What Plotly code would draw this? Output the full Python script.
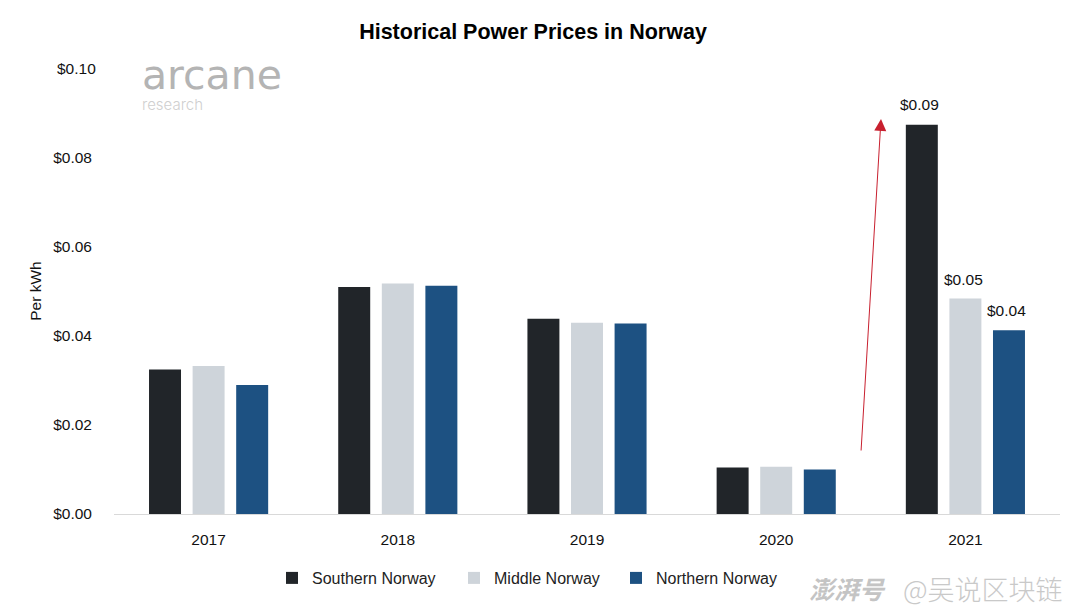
import plotly.graph_objects as go

years = ['2017', '2018', '2019', '2020', '2021']
southern = [0.0324, 0.0509, 0.0438, 0.0104, 0.0873]
middle = [0.0332, 0.0517, 0.0429, 0.0106, 0.0483]
northern = [0.0289, 0.0512, 0.0427, 0.0100, 0.0412]
value_labels = ['$0.09', '$0.05', '$0.04']
y_ticks = [0, 0.02, 0.04, 0.06, 0.08]
y_tick_labels = ['$0.00', '$0.02', '$0.04', '$0.06', '$0.08']
top_tick, top_tick_label = 0.10, '$0.10'

W, H = 1080, 608
# the page body adds 8px around the figure, so positions below are screen px minus that
PAGE = 8
L, R, T, B = 114, 20, 68, 94
FONT = 'Liberation Sans'


def cont_y(y):
    return 1 - (y - PAGE) / H


def paper_x(x):
    return (x - L) / (W - L - R)


def paper_y(y):
    return (514 - y) / (514 - T)


fig = go.Figure()
series = [
    ('Southern Norway', southern, '#212529', 'legend', 312),
    ('Middle Norway', middle, '#CED4DA', 'legend2', 494),
    ('Northern Norway', northern, '#1D5182', 'legend3', 656),
]
for name, vals, color, legend_id, _ in series:
    fig.add_trace(go.Bar(
        x=years, y=vals, name=name, marker_color=color, marker_line_width=0,
        legend=legend_id, showlegend=True,
    ))

legend_style = {}
for name, vals, color, legend_id, text_x in series:
    legend_style[legend_id] = dict(
        orientation='h', x=paper_x(text_x - 40), xanchor='left',
        yref='container', y=cont_y(578), yanchor='middle',
        font=dict(size=16, color='#222222'),
        itemwidth=30, bgcolor='rgba(0,0,0,0)',
    )

fig.update_layout(
    width=W, height=H,
    autosize=False,
    margin=dict(l=L - PAGE, r=R + PAGE, t=T - PAGE, b=B + PAGE),
    paper_bgcolor='white',
    plot_bgcolor='white',
    font=dict(family=FONT, size=15.5, color='#111111'),
    barmode='group',
    bargap=0.309,
    bargroupgap=0.266,
    showlegend=True,
    title=dict(
        text='<b>Historical Power Prices in Norway</b>',
        x=(533 - PAGE) / W, xanchor='center', y=cont_y(31), yanchor='middle',
        font=dict(size=21.5, color='black'),
    ),
    xaxis=dict(
        type='category', range=[-0.5, len(years) - 0.5],
        showgrid=False, showline=True, linecolor='#D9D9D9', linewidth=1,
        ticks='', ticklabelstandoff=11,
    ),
    yaxis=dict(
        range=[0, 0.10], tickvals=y_ticks, ticktext=y_tick_labels,
        showgrid=False, zeroline=False, showline=False, ticks='',
        ticklabelstandoff=21,
        title=dict(text='Per kWh', standoff=7, font=dict(size=15.5)),
    ),
    **legend_style,
)

# only the 2021 bars carry value labels; numeric-looking categories go by index here
last = len(years) - 1
for label, value, shift, lift in zip(value_labels, [southern[-1], middle[-1], northern[-1]], [-46, -2, 41], [10, 9, 9]):
    fig.add_annotation(
        x=last, y=value, xref='x', yref='y', text=label, showarrow=False,
        xanchor='center', yanchor='bottom', xshift=shift, yshift=lift,
    )
fig.add_annotation(
    xref='paper', yref='y', x=paper_x(76), y=top_tick, text=top_tick_label,
    showarrow=False, xanchor='center', yanchor='middle',
)

# growth arrow, logo and watermark sit on top of the chart
fig.add_annotation(
    xref='paper', yref='paper', axref='pixel', ayref='pixel',
    x=paper_x(881), y=paper_y(119),
    ax=-20, ay=333,
    text='', showarrow=True, arrowhead=2, arrowsize=2.4, arrowwidth=1,
    arrowcolor='#C8202F',
)
for text, x, y, size, color, family, weight in [
    ('arcane', 212, 75, 41, '#B4B4B4', 'DejaVu Sans', 400),
    ('research', 172, 104, 15, '#CFCFCF', 'Inter', 300),
    ('<i><b>澎湃号</b></i>', 847, 588, 25, '#C4C4C4', 'Noto Sans CJK SC', 400),
    ('@吴说区块链', 983, 588, 27, '#C9C9C9', 'Noto Sans CJK SC', 300),
]:
    fig.add_annotation(
        xref='paper', yref='paper', x=paper_x(x), y=paper_y(y),
        text=text, showarrow=False, xanchor='center', yanchor='middle',
        font=dict(size=size, color=color, family=family, weight=weight),
    )

fig.write_html('out.html')
